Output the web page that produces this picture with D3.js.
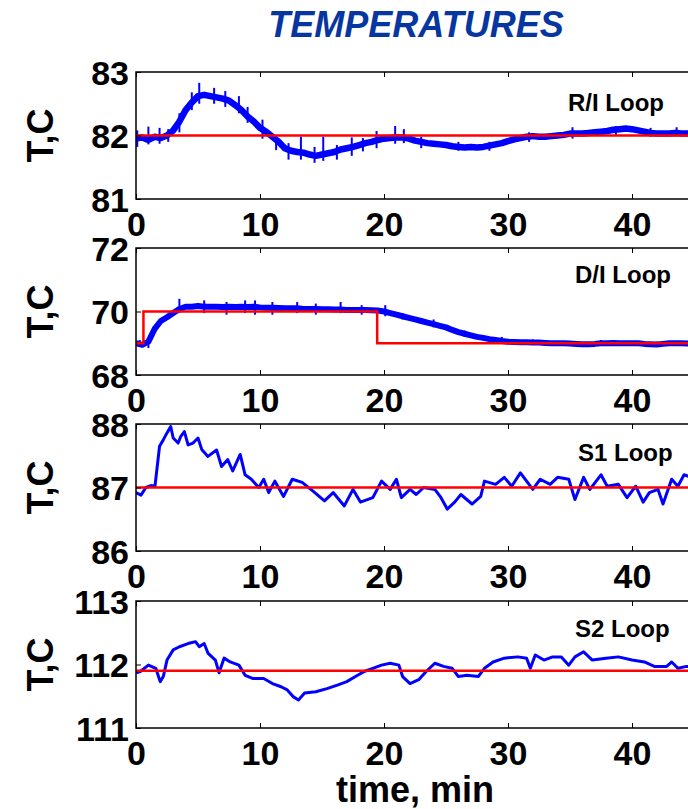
<!DOCTYPE html>
<html>
<head>
<meta charset="utf-8">
<script src="https://cdn.jsdelivr.net/npm/d3@7"></script>
<style>
  body { margin: 0; background: #fff; }
  svg text { font-family: "Liberation Sans", Arial, sans-serif; font-weight: bold; }
</style>
</head>
<body>
<div id="chart"></div>
<script>
// time axis ticks, minutes
var timeTicks = [0, 10, 20, 30, 40];

// R/I loop, sampled every 0.5 min
var riStep = 0.5;
var riTemp = [81.95, 81.97, 81.93, 81.98, 81.96, 82.0, 82.08, 82.22, 82.4, 82.52,
  82.62, 82.64, 82.62, 82.6, 82.58, 82.55, 82.48, 82.4, 82.3, 82.22,
  82.12, 82.06, 81.98, 81.9, 81.8, 81.76, 81.74, 81.73, 81.7, 81.68,
  81.7, 81.72, 81.74, 81.78, 81.8, 81.82, 81.85, 81.88, 81.9, 81.93,
  81.95, 81.96, 81.97, 81.97, 81.95, 81.92, 81.9, 81.88, 81.87, 81.86,
  81.85, 81.83, 81.82, 81.81, 81.82, 81.81, 81.82, 81.84, 81.86, 81.88,
  81.91, 81.94, 81.96, 81.98, 81.99, 81.98, 81.98, 81.99, 82.0, 82.01,
  82.03, 82.03, 82.03, 82.04, 82.05, 82.06, 82.07, 82.09, 82.1, 82.11,
  82.1, 82.08, 82.06, 82.04, 82.03, 82.03, 82.03, 82.04, 82.03, 82.03, 82.03];
// noise spikes seen on the R/I trace: time, low, high
var riSpikeTime = [0.1, 1.0, 1.9, 2.6, 3.5, 4.5, 5.1, 6.3, 7.2, 8.3, 9.0, 10.2, 11.3, 12.3, 13.3, 14.4,
  15.1, 16.2, 17.4, 18.3, 19.4, 20.9, 21.6, 23.0, 26.0, 28.5, 31.7, 35.2, 38.7, 41.5, 43.6];
var riSpikeLo = [81.82, 81.86, 81.87, 81.9, 82.05, 82.4, 82.5, 82.5, 82.45, 82.35, 82.2, 81.95, 81.77, 81.62, 81.62, 81.57,
  81.6, 81.62, 81.68, 81.75, 81.8, 81.87, 81.88, 81.8, 81.76, 81.76, 81.9, 81.95, 82.0, 81.98, 82.0];
var riSpikeHi = [82.08, 82.14, 82.12, 82.1, 82.35, 82.68, 82.83, 82.75, 82.7, 82.62, 82.45, 82.25, 81.98, 81.88, 81.98, 81.82,
  81.98, 81.85, 81.97, 81.96, 82.07, 82.15, 82.1, 81.98, 81.9, 81.9, 82.05, 82.13, 82.15, 82.12, 82.13];
var riSetTime = [0, 50];
var riSet = [82, 82];

// D/I loop, sampled every 0.5 min
var diStep = 0.5;
var diTemp = [69.0, 68.95, 69.05, 69.45, 69.7, 69.82, 69.95, 70.08, 70.15, 70.15,
  70.17, 70.15, 70.15, 70.15, 70.14, 70.15, 70.14, 70.15, 70.14, 70.15,
  70.13, 70.12, 70.12, 70.11, 70.1, 70.1, 70.1, 70.08, 70.08, 70.08,
  70.07, 70.07, 70.06, 70.06, 70.05, 70.05, 70.05, 70.05, 70.04, 70.03,
  70.0, 69.95, 69.9, 69.85, 69.8, 69.75, 69.7, 69.65, 69.6, 69.55,
  69.5, 69.42, 69.35, 69.3, 69.25, 69.2, 69.17, 69.13, 69.1, 69.07,
  69.05, 69.04, 69.03, 69.03, 69.02, 69.02, 69.01, 69.0, 69.0, 69.0,
  68.99, 68.98, 68.97, 68.97, 68.98, 69.0, 69.0, 69.01, 69.0, 69.0,
  69.0, 69.0, 68.98, 68.97, 68.96, 68.98, 69.0, 69.0, 69.0, 68.99, 68.98];
var diSpikeTime = [0.3, 1.0, 3.5, 5.5, 7.3, 8.8, 9.6, 11.0, 13.0, 14.5, 16.5, 18.2, 20.1, 21.5,
  24.0, 26.5, 29.5, 32.0, 37.5, 42.0];
var diSpikeLo = [68.9, 68.85, 69.95, 69.95, 69.9, 69.95, 69.9, 69.9, 69.95, 69.9, 69.95, 69.9, 69.85, 69.75,
  69.5, 69.2, 69.0, 68.95, 68.93, 68.9];
var diSpikeHi = [69.1, 69.1, 70.4, 70.35, 70.3, 70.35, 70.35, 70.3, 70.3, 70.25, 70.3, 70.2, 70.2, 69.95,
  69.75, 69.4, 69.2, 69.12, 69.1, 69.05];
var diSetTime = [0, 0.6, 19.45, 50];
var diSet = [69, 70, 69, 69];

// S1 loop
var s1Time = [0, 0.4, 0.8, 1.2, 1.53, 1.9, 2.2, 2.5, 2.8, 3.0, 3.4, 3.6, 3.9, 4.2, 4.6, 5.0,
  5.3, 5.8, 6.5, 6.9, 7.4, 7.8, 8.4, 8.8, 9.3, 9.9, 10.3, 10.7, 11.2, 11.9, 12.6,
  13.4, 14.3, 15.2, 15.9, 16.8, 17.5, 18.1, 19.1, 19.8, 20.5, 21.0, 21.4, 22.1,
  22.6, 23.2, 24.1, 24.6, 25.1, 25.7, 26.2, 27.1, 27.8, 28.1, 29.0, 29.7, 30.3,
  31.0, 31.5, 32.0, 32.6, 33.4, 34.0, 34.9, 35.4, 36.1, 36.6, 37.5, 38.0, 38.9,
  39.6, 40.3, 40.9, 41.4, 42.1, 42.5, 43.2, 43.7, 44.2, 45];
var s1Temp = [86.92, 86.88, 87.0, 87.03, 87.02, 87.65, 87.75, 87.86, 87.96, 87.78, 87.7, 87.8, 87.88, 87.67, 87.7, 87.78,
  87.6, 87.49, 87.59, 87.33, 87.44, 87.26, 87.52, 87.2, 87.13, 87.0, 87.13, 86.92, 87.1, 86.86, 87.13,
  87.08, 86.94, 86.79, 86.92, 86.71, 86.97, 86.77, 86.84, 87.1, 86.97, 87.13, 86.84, 86.97,
  86.89, 87.0, 86.97, 86.84, 86.66, 86.77, 86.89, 86.74, 86.86, 87.1, 87.05, 87.16, 87.02,
  87.23, 87.1, 86.97, 87.13, 87.05, 87.16, 87.13, 86.81, 87.16, 86.97, 87.2, 87.02, 87.05,
  86.84, 87.02, 86.77, 86.92, 86.97, 86.74, 87.13, 87.02, 87.2, 87.15];
var s1SetTime = [0, 50];
var s1Set = [87, 87];

// S2 loop
var s2Time = [0, 0.35, 1.0, 1.6, 1.95, 2.2, 2.5, 3.0, 3.5, 4.2, 4.8, 5.1, 5.5, 5.8, 6.4, 6.7,
  7.1, 7.6, 8.3, 8.8, 9.4, 10.3, 11.0, 11.7, 12.2, 12.7, 13.1, 13.6, 14.5, 15.4,
  16.3, 17.0, 17.7, 18.4, 19.1, 19.8, 20.5, 21.2, 21.5, 22.1, 22.8, 23.4, 24.1,
  24.8, 25.5, 26.0, 26.7, 27.6, 28.1, 28.8, 29.7, 30.8, 31.5, 31.8, 32.2, 32.9,
  33.6, 34.3, 34.9, 35.4, 36.1, 36.8, 37.9, 38.9, 40.0, 41.0, 41.8, 42.8, 43.2,
  43.7, 44.4, 45];
var s2Temp = [111.87, 111.89, 111.99, 111.94, 111.73, 111.81, 112.07, 112.23, 112.28, 112.33, 112.36, 112.28, 112.33, 112.18, 112.07, 111.87,
  112.1, 112.04, 111.99, 111.83, 111.78, 111.78, 111.7, 111.65, 111.6, 111.49, 111.44, 111.55, 111.57, 111.62,
  111.68, 111.73, 111.81, 111.89, 111.94, 111.99, 112.02, 111.99, 111.81, 111.7, 111.76, 111.89, 112.02,
  111.97, 111.94, 111.81, 111.83, 111.81, 111.94, 112.04, 112.1, 112.12, 112.1, 111.94, 112.15, 112.07,
  112.12, 112.12, 111.99, 112.12, 112.2, 112.07, 112.1, 112.12, 112.07, 112.04, 111.97, 111.97, 112.04,
  111.94, 111.97, 111.97];
var s2SetTime = [0, 50];
var s2Set = [111.9, 111.9];

var panels = [
  {name: "R/I Loop", time: riTemp.map(function(d, i) { return i * riStep; }), temp: riTemp,
   spikes: [riSpikeTime, riSpikeLo, riSpikeHi],
   setTime: riSetTime, set: riSet, yTicks: [81, 82, 83], top: 72, width: 6.5, lx: 568, ly: 39},
  {name: "D/I Loop", time: diTemp.map(function(d, i) { return i * diStep; }), temp: diTemp,
   spikes: [diSpikeTime, diSpikeLo, diSpikeHi],
   setTime: diSetTime, set: diSet, yTicks: [68, 70, 72], top: 248, width: 6, lx: 575, ly: 35},
  {name: "S1 Loop", time: s1Time, temp: s1Temp, spikes: null,
   setTime: s1SetTime, set: s1Set, yTicks: [86, 87, 88], top: 424, width: 3, lx: 578, ly: 37},
  {name: "S2 Loop", time: s2Time, temp: s2Temp, spikes: null,
   setTime: s2SetTime, set: s2Set, yTicks: [111, 112, 113], top: 601, width: 3, lx: 575, ly: 36}
];

var width = 688, height = 809,
    left = 136, plotH = 127;

var svg = d3.select("#chart").append("svg")
    .attr("width", width)
    .attr("height", height);

var x = d3.scaleLinear().domain([0, 50]).range([left, left + 620]);

svg.append("text")
    .attr("x", 416).attr("y", 37)
    .attr("text-anchor", "middle")
    .attr("font-size", 36)
    .attr("font-style", "italic")
    .attr("fill", "#0836a0")
    .text("TEMPERATURES");

panels.forEach(function(p, k) {
  var y = d3.scaleLinear().domain([p.yTicks[0], p.yTicks[2]]).range([p.top + plotH, p.top]);
  var g = svg.append("g");

  g.append("clipPath").attr("id", "clip" + k)
    .append("rect")
      .attr("x", left).attr("y", p.top)
      .attr("width", 620).attr("height", plotH);

  var line = d3.line()
      .x(function(d) { return x(d[0]); })
      .y(function(d) { return y(d[1]); });

  var inner = g.append("g").attr("clip-path", "url(#clip" + k + ")");
  inner.append("path")
      .datum(d3.zip(p.time, p.temp))
      .attr("d", line)
      .attr("fill", "none")
      .attr("stroke", "#0000ff")
      .attr("stroke-width", p.width)
      .attr("stroke-linejoin", "round");

  if (p.spikes) {
    inner.selectAll(".spike")
      .data(d3.zip(p.spikes[0], p.spikes[1], p.spikes[2]))
      .join("line")
        .attr("class", "spike")
        .attr("x1", function(d) { return x(d[0]); })
        .attr("x2", function(d) { return x(d[0]); })
        .attr("y1", function(d) { return y(d[1]); })
        .attr("y2", function(d) { return y(d[2]); })
        .attr("stroke", "#0000ff")
        .attr("stroke-width", 2);
  }

  inner.append("path")
      .datum(d3.zip(p.setTime, p.set))
      .attr("d", line.curve(d3.curveStepAfter))
      .attr("fill", "none")
      .attr("stroke", "#ff0000")
      .attr("stroke-width", 2.5);

  // inward ticks, bottom & top
  var xb = d3.axisBottom(x).tickValues(timeTicks).tickSize(-5).tickPadding(12).tickFormat(d3.format("d"));
  var gx = g.append("g").attr("transform", "translate(0," + (p.top + plotH) + ")").call(xb);
  var xt = d3.axisTop(x).tickValues(timeTicks).tickSize(-5).tickFormat("");
  var gt = g.append("g").attr("transform", "translate(0," + p.top + ")").call(xt);
  var ya = d3.axisLeft(y).tickValues(p.yTicks).tickSize(-5).tickPadding(12).tickFormat(d3.format("d"));
  var gy = g.append("g").attr("transform", "translate(" + left + ",0)").call(ya);

  [gx, gt, gy].forEach(function(a) {
    a.select(".domain").remove();
    a.selectAll(".tick line").attr("stroke", "#000").attr("stroke-width", 1);
    a.selectAll("text").attr("font-size", 34).attr("fill", "#000")
      .attr("font-family", "Liberation Sans, Arial, sans-serif");
  });
  gx.selectAll("text").attr("dy", null).attr("y", 37);
  gy.selectAll("text").attr("x", -7).attr("dy", "0.36em");

  g.append("rect")
      .attr("x", left).attr("y", p.top)
      .attr("width", 620).attr("height", plotH)
      .attr("fill", "none")
      .attr("stroke", "#000")
      .attr("stroke-width", 1.5);

  g.append("text")
      .attr("x", p.lx).attr("y", p.top + p.ly)
      .attr("font-size", 24)
      .text(p.name);

  g.append("text")
      .attr("transform", "translate(53," + (p.top + plotH / 2) + ")rotate(-90)")
      .attr("text-anchor", "middle")
      .attr("font-size", 36)
      .text("T,C");
});

svg.append("text")
    .attr("x", 415).attr("y", 802)
    .attr("text-anchor", "middle")
    .attr("font-size", 36)
    .text("time, min");
</script>
</body>
</html>
